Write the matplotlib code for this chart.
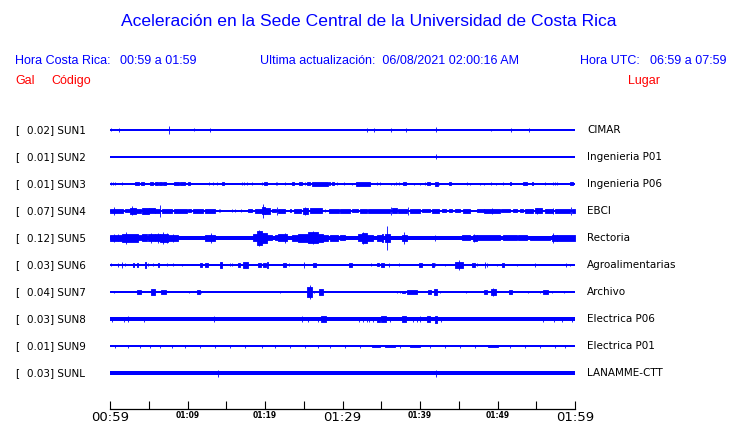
import matplotlib
matplotlib.use('Agg')
import matplotlib.pyplot as plt
import matplotlib.transforms as mtransforms

# estaciones, de arriba hacia abajo
codigos = ['SUN1', 'SUN2', 'SUN3', 'SUN4', 'SUN5', 'SUN6', 'SUN7', 'SUN8', 'SUN9', 'SUNL']
gales = [0.02, 0.01, 0.01, 0.07, 0.12, 0.03, 0.04, 0.03, 0.01, 0.03]
lugares = ['CIMAR', 'Ingenieria P01', 'Ingenieria P06', 'EBCI', 'Rectoria',
           'Agroalimentarias', 'Archivo', 'Electrica P06', 'Electrica P01', 'LANAMME-CTT']

# semi-ancho del ruido de fondo de cada traza (en px de pantalla)
fondo = [0.6, 0.6, 0.6, 1.0, 1.7, 0.6, 0.6, 1.7, 0.6, 2.0]

# rafagas: (minuto inicio, minuto fin, semi-amplitud px)
sun1 = [(0.1, 0.1, 1.5), (1.1, 1.1, 2), (7.6, 7.6, 4), (10.9, 10.9, 1.5), (12.9, 12.9, 2),
        (33.1, 33.1, 2), (34.1, 34.1, 2), (36.3, 36.3, 2), (38.2, 38.2, 2), (42.0, 42.0, 2.5),
        (49.2, 49.2, 1), (51.8, 51.8, 2), (54.1, 54.1, 2)]
sun2 = [(42.0, 42.0, 2.5)]
sun3 = [(0.1, 0.1, 1.5), (0.4, 0.4, 1.5), (0.7, 0.7, 1.5), (1.5, 1.5, 1.5), (3.2, 3.75, 1.5),
        (4.0, 4.4, 1.5), (5.2, 5.5, 1.5), (5.8, 6.15, 1.5), (6.3, 6.7, 1.5), (6.9, 7.2, 1.5),
        (8.2, 8.9, 1.5), (9.0, 9.7, 1.5), (10.1, 10.3, 1.5), (12.8, 12.8, 1.5), (13.3, 13.3, 1.5),
        (13.85, 13.85, 1.5), (14.5, 14.75, 1.5), (17.0, 17.0, 1.5), (17.35, 17.35, 1.5),
        (17.7, 17.7, 1.5), (18.3, 18.3, 1.5), (19.6, 19.6, 1.5), (19.9, 20.3, 1.5),
        (21.4, 21.4, 1.5), (21.6, 21.6, 1.5), (22.6, 22.6, 1.5), (23.5, 23.75, 1.5),
        (24.4, 24.8, 1.5), (25.2, 25.2, 1.5), (25.4, 25.85, 1.5), (26.0, 28.1, 1.7),
        (28.3, 28.4, 1.5), (28.6, 28.9, 1.5), (29.3, 29.3, 1.5), (30.2, 30.2, 1.5),
        (31.2, 31.2, 1), (31.8, 33.6, 1.7), (34.4, 34.4, 1.5), (34.9, 34.9, 1.5),
        (36.3, 36.3, 1), (36.6, 36.6, 1), (36.9, 36.9, 1.5), (37.3, 37.3, 1.5), (37.8, 38.2, 1.5),
        (39.2, 39.2, 1), (40.0, 40.0, 1), (40.6, 40.6, 1.5), (40.9, 41.3, 1.5), (41.9, 42.3, 1.7),
        (42.45, 42.45, 1), (43.7, 44.0, 1.5), (46.0, 46.0, 1.5), (46.45, 46.45, 1),
        (47.7, 47.7, 1), (48.3, 48.3, 1), (49.1, 49.1, 1.5), (49.8, 49.8, 1), (50.7, 50.7, 1.5),
        (51.6, 51.8, 1.5), (53.3, 53.8, 1.5), (54.4, 54.6, 1.5), (56.1, 56.1, 1.5),
        (57.1, 57.1, 1.5), (57.4, 57.4, 1.5), (57.7, 57.7, 1.5), (59.4, 59.7, 1.5)]
sun4 = [(0.0, 1.7, 2), (0.56, 0.56, 4), (1.9, 2.6, 1.5), (2.6, 3.4, 3), (2.9, 2.9, 4.5),
        (3.4, 4.0, 2), (4.1, 5.0, 3), (5.0, 5.8, 2.5), (5.8, 6.45, 2), (6.45, 6.45, 6),
        (6.7, 8.0, 2), (8.3, 9.9, 2), (10.1, 10.5, 1.5), (10.75, 12.0, 2), (12.3, 13.5, 2),
        (14.0, 14.0, 1.5), (14.2, 14.2, 1.5), (15.7, 15.7, 1.5), (16.1, 16.1, 1.5),
        (16.9, 16.9, 1.5), (17.85, 18.3, 1.5), (18.7, 19.6, 2), (19.6, 20.0, 3.5),
        (19.8, 19.8, 7), (20.0, 20.65, 3), (20.9, 21.4, 1.5), (21.6, 21.6, 4), (21.7, 22.6, 2),
        (23.2, 23.4, 1.5), (23.7, 24.7, 2), (24.95, 25.6, 3), (25.1, 25.1, 4), (25.8, 27.3, 2.5),
        (27.7, 27.7, 1.5), (28.2, 29.5, 2), (29.7, 31.0, 2), (31.2, 32.05, 1.5), (32.3, 33.1, 2),
        (33.3, 36.1, 2), (36.2, 36.2, 4), (36.35, 37.0, 2.5), (37.2, 38.3, 2), (38.5, 38.5, 4),
        (38.7, 40.0, 2), (40.2, 41.3, 1.5), (41.5, 42.4, 2), (42.8, 43.4, 1.5), (43.7, 44.1, 1.5),
        (44.5, 45.2, 1.5), (45.6, 46.45, 2), (47.3, 48.2, 1.5), (48.2, 50.3, 2), (49.25, 49.25, 3),
        (50.5, 51.6, 1.5), (52.05, 52.5, 1.5), (52.9, 53.3, 1.5), (53.55, 54.6, 2),
        (54.8, 55.7, 2.5), (55.06, 55.06, 3), (56.1, 57.2, 2), (57.2, 57.2, 3), (57.4, 59.4, 2),
        (59.44, 59.44, 4), (59.6, 60.0, 2)]
sun5 = [(0, 1.5, 3), (0.56, 0.56, 4), (1.0, 1.0, 3.5), (1.5, 3.66, 4), (2.0, 2.0, 6),
        (3.66, 4.09, 2.5), (4.09, 4.73, 3.5), (4.95, 5.8, 3.5), (5.29, 5.29, 5), (5.8, 6.45, 3.5),
        (6.24, 6.24, 5), (6.45, 7.53, 4), (6.88, 6.88, 6), (7.31, 7.31, 5), (7.53, 8.82, 3),
        (8.17, 8.17, 4), (12.26, 13.55, 3), (13.03, 13.03, 5), (18.5, 18.92, 3.5),
        (18.92, 19.57, 7), (19.23, 19.23, 8), (19.57, 20.22, 5), (20.22, 20.86, 2.5),
        (21.29, 21.72, 2.5), (21.72, 22.8, 3.5), (22.58, 22.58, 5), (23.44, 24.3, 3),
        (24.3, 25.59, 4), (25.59, 26.88, 5.5), (26.24, 26.24, 6.5), (26.88, 27.53, 4),
        (27.53, 28.17, 3), (28.39, 29.46, 3), (29.68, 30.32, 2.5), (32.05, 32.69, 3.5),
        (32.48, 33.12, 5), (32.69, 32.69, 6), (33.12, 33.98, 3), (34.41, 35.06, 3),
        (35.06, 35.27, 4), (35.49, 36.13, 4), (35.79, 35.79, 12), (37.64, 38.28, 3),
        (37.94, 37.94, 6), (41.94, 41.94, 3), (45.38, 46.45, 2.5), (46.88, 47.31, 3),
        (47.01, 47.01, 4), (47.31, 50.32, 2.5), (50.75, 52.48, 2.5), (52.69, 53.77, 2.5),
        (54.2, 56.78, 2.2), (56.99, 57.64, 3), (57.21, 57.21, 5), (57.64, 60.0, 3)]
sun6 = [(0.13, 0.13, 1.5), (1.0, 1.0, 2), (1.5, 1.5, 3), (1.94, 1.94, 1.5), (3.0, 3.1, 2),
        (3.5, 3.6, 2), (4.5, 4.7, 3), (4.86, 4.86, 1.5), (5.5, 5.5, 1.5), (6.15, 6.37, 2),
        (7.36, 7.36, 1.5), (8.09, 8.09, 1.5), (9.25, 9.25, 1), (11.6, 11.9, 2), (12.26, 12.6, 2),
        (14.2, 14.5, 3), (15.48, 15.48, 1.5), (15.78, 15.78, 1.5), (16.47, 16.82, 2),
        (17.2, 17.85, 3), (19.14, 19.44, 2), (19.78, 20.09, 2), (20.26, 20.43, 3),
        (22.37, 22.67, 2), (23.1, 23.1, 1.5), (25.08, 25.08, 3), (26.24, 26.54, 2),
        (30.88, 31.27, 2), (33.64, 33.64, 1.5), (34.5, 34.71, 1.5), (34.97, 35.31, 2),
        (36.0, 36.0, 2), (37.29, 37.29, 1.5), (39.92, 40.22, 2), (41.59, 41.77, 2),
        (41.98, 41.98, 1.5), (43.19, 43.19, 1), (44.52, 45.51, 3), (45.04, 45.04, 5),
        (46.76, 47.14, 2), (47.31, 47.31, 1.5), (48.39, 48.39, 3), (48.69, 48.69, 2),
        (49.98, 49.98, 1), (50.63, 50.88, 2), (52.48, 52.48, 1), (54.84, 54.84, 2),
        (58.8, 58.8, 2), (59.36, 59.36, 1)]
sun7 = [(0.56, 0.56, 1.5), (3.48, 3.96, 2), (5.29, 5.76, 3), (6.54, 7.18, 2), (10.24, 10.24, 1.5),
        (11.27, 11.57, 2), (11.74, 11.74, 1.5), (21.98, 21.98, 1), (25.38, 26.11, 5),
        (25.76, 25.76, 7), (26.37, 26.37, 1.5), (26.97, 27.53, 3), (36.99, 36.99, 1.5),
        (37.42, 37.42, 1.5), (37.64, 38.07, 1.5), (38.28, 39.66, 2), (41.08, 41.38, 2),
        (41.85, 42.24, 3), (42.58, 42.58, 1.5), (45.94, 45.94, 1), (48.26, 48.6, 2),
        (49.12, 49.81, 3), (49.46, 49.46, 4), (51.53, 51.83, 2.5), (53.98, 53.98, 1),
        (55.49, 55.49, 1), (55.92, 56.56, 2), (57.08, 57.08, 1), (58.58, 58.58, 1.5)]
sun8 = [(0.22, 0.22, 2.5), (1.85, 1.85, 2.5), (2.37, 2.37, 3), (4.43, 4.43, 2.5),
        (13.46, 13.46, 3), (24.82, 24.82, 3), (25.51, 25.51, 2.5), (26.88, 26.88, 2.5),
        (27.23, 27.83, 3), (32.17, 32.17, 2.5), (32.6, 32.6, 2.5), (33.12, 33.12, 2.5),
        (33.47, 33.47, 2.5), (33.98, 33.98, 2.5), (34.5, 34.84, 2.5), (34.93, 35.62, 3),
        (36.13, 36.13, 2.5), (37.64, 38.15, 3), (39.14, 39.14, 2.5), (39.57, 39.57, 2.5),
        (40.0, 40.0, 3), (40.95, 41.29, 3), (41.94, 42.24, 3.5), (42.67, 42.67, 2.5),
        (55.92, 55.92, 2.5), (57.29, 57.29, 2.5), (58.28, 58.28, 2.5), (59.66, 59.66, 2.5)]
sun9 = [(0.6, 0.6, 1.5), (2.3, 2.3, 1.5), (3.9, 3.9, 1.5), (5.2, 5.2, 1.5), (6.5, 6.5, 1.5),
        (8.0, 8.0, 1.5), (9.7, 9.7, 1.5), (11.6, 11.6, 1.5), (13.5, 13.5, 1.5), (15.5, 15.5, 1.5),
        (17.4, 17.4, 1.5), (19.6, 19.6, 1.5), (21.3, 21.3, 1.5), (23.2, 23.2, 1.5),
        (25.2, 25.2, 1.5), (26.8, 26.8, 1.5), (28.4, 28.4, 1.5), (30.3, 30.3, 1.5),
        (32.3, 32.3, 1.5), (33.8, 34.8, 1.2), (35.5, 36.8, 1.2), (37.4, 37.4, 1.5),
        (38.7, 40.0, 1.2), (41.3, 41.3, 1.5), (43.2, 43.2, 1.5), (45.2, 45.2, 1.5),
        (47.1, 47.1, 1.5), (48.8, 50.1, 1.2), (51.6, 51.6, 1.5), (53.5, 53.5, 1.5),
        (55.5, 55.5, 1.5), (57.4, 57.4, 1.5), (58.7, 58.7, 1.5)]
sunl = [(13.9, 13.9, 3.5), (42.0, 42.0, 3.5)]
rafagas = [sun1, sun2, sun3, sun4, sun5, sun6, sun7, sun8, sun9, sunl]

ticks_min = list(range(0, 61, 5))
ticks_lab = ['00:59', '', '01:09', '', '01:19', '', '01:29', '', '01:39', '', '01:49', '', '01:59']

AZUL = '#0000ff'
ROJO = '#ff0000'
W, H = 740, 423
PX = 1 / 27.0  # una fila = 27 px

fig = plt.figure(figsize=(W / 100, H / 100), dpi=100)
ax = fig.add_axes([110 / W, 1 - 386.5 / H, 465 / W, 270 / H])
ax.set_xlim(0, 60)
ax.set_ylim(len(codigos) - 0.5, -0.5)

for i, (b, raf) in enumerate(zip(fondo, rafagas)):
    ax.broken_barh([(0, 60)], (i - b * PX, 2 * b * PX), facecolors=AZUL, edgecolors='none')
    for t0, t1, a in raf:
        ax.broken_barh([(t0, t1 - t0)], (i - a * PX, 2 * a * PX), facecolors=AZUL,
                       edgecolors=AZUL, linewidth=0.6)

# etiquetas izquierda / derecha
trans_izq = mtransforms.blended_transform_factory(fig.transFigure, ax.transData)
for i, (g, c, l) in enumerate(zip(gales, codigos, lugares)):
    ax.text(15 / W, i, '[', transform=trans_izq, va='center', ha='left', fontsize=7.5)
    ax.text(27 / W, i, f'{g:.2f}] {c}', transform=trans_izq, va='center', ha='left', fontsize=7.5)
    ax.text(587 / W, i, l, transform=trans_izq, va='center', ha='left', fontsize=7.5)

# eje de tiempo
for s in ['top', 'left', 'right']:
    ax.spines[s].set_visible(False)
ax.spines['bottom'].set_position(('outward', 22.5 * 0.72))
ax.spines['bottom'].set_linewidth(0.9)
ax.set_yticks([])
ax.set_xticks(ticks_min)
ax.set_xticklabels(ticks_lab)
ax.tick_params(axis='x', direction='in', length=5.8, width=0.8, pad=1.5)
for k, lab in enumerate(ax.get_xticklabels()):
    if k % 6 == 0:
        lab.set_fontsize(9.5)
    else:
        lab.set_fontsize(5.5)
        lab.set_fontweight('bold')

# textos de cabecera
hf = 'Liberation Sans'
fig.text(369 / W, 1 - 22 / H, 'Aceleración en la Sede Central de la Universidad de Costa Rica',
         ha='center', va='center', color=AZUL, fontsize=12.6, family=hf)
fig.text(15 / W, 1 - 61 / H, 'Hora Costa Rica:', ha='left', va='center', color=AZUL, fontsize=9, family=hf)
fig.text(120 / W, 1 - 61 / H, '00:59 a 01:59', ha='left', va='center', color=AZUL, fontsize=9, family=hf)
fig.text(260 / W, 1 - 61 / H, 'Ultima actualización:  06/08/2021 02:00:16 AM',
         ha='left', va='center', color=AZUL, fontsize=9, family=hf)
fig.text(580 / W, 1 - 61 / H, 'Hora UTC:', ha='left', va='center', color=AZUL, fontsize=9, family=hf)
fig.text(650 / W, 1 - 61 / H, '06:59 a 07:59', ha='left', va='center', color=AZUL, fontsize=9, family=hf)
fig.text(15 / W, 1 - 81 / H, 'Gal', ha='left', va='center', color=ROJO, fontsize=9, family=hf)
fig.text(51 / W, 1 - 81 / H, 'Código', ha='left', va='center', color=ROJO, fontsize=9, family=hf)
fig.text(628 / W, 1 - 81 / H, 'Lugar', ha='left', va='center', color=ROJO, fontsize=9, family=hf)

plt.savefig('out.png', dpi=100)
